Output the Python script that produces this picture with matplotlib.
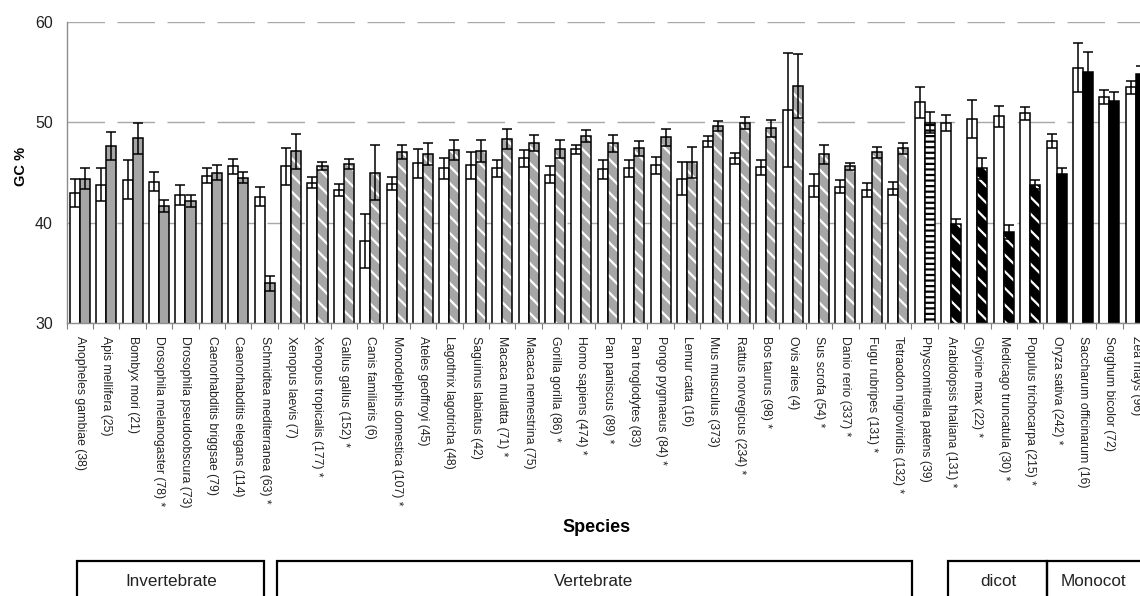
import matplotlib
matplotlib.use("Agg")
import matplotlib.pyplot as plt
from matplotlib.patches import Rectangle
import numpy as np

plt.rcParams['font.family'] = ['Liberation Sans', 'DejaVu Sans']
plt.rcParams['hatch.linewidth'] = 1.6

species = [
    "Anopheles gambiae (38)", "Apis mellifera (25)", "Bombyx mori (21)",
    "Drosophila melanogaster (78) *", "Drosophila pseudoobscura (73)",
    "Caenorhabditis briggsae (79)", "Caenorhabditis elegans (114)",
    "Schmidtea mediterranea (63) *", "Xenopus laevis (7)",
    "Xenopus tropicalis (177) *", "Gallus gallus (152) *", "Canis familiaris (6)",
    "Monodelphis domestica (107) *", "Ateles geoffroyi (45)",
    "Lagothrix lagotricha (48)", "Saguinus labiatus (42)",
    "Macaca mulatta (71) *", "Macaca nemestrina (75)", "Gorilla gorilla (86) *",
    "Homo sapiens (474) *", "Pan paniscus (89) *", "Pan troglodytes (83)",
    "Pongo pygmaeus (84) *", "Lemur catta (16)", "Mus musculus (373)",
    "Rattus norvegicus (234) *", "Bos taurus (98) *", "Ovis aries (4)",
    "Sus scrofa (54) *", "Danio rerio (337) *", "Fugu rubripes (131) *",
    "Tetraodon nigroviridis (132) *", "Physcomitrella patens (39)",
    "Arabidopsis thaliana (131) *", "Glycine max (22) *",
    "Medicago truncatula (30) *", "Populus trichocarpa (215) *",
    "Oryza sativa (242) *", "Saccharum officinarum (16)",
    "Sorghum bicolor (72)", "Zea mays (96)",
]
group = (["invertebrate"] * 8 + ["vertebrate"] * 24 + ["moss"] + ["dicot"] * 4
         + ["monocot"] * 4)

gc_white = [43.0, 43.8, 44.3, 44.1, 42.8, 44.7, 45.6, 42.6, 45.6,
            44.0, 43.3, 38.2, 43.9, 45.9, 45.4, 45.7, 45.4, 46.4, 44.8,
            47.3, 45.3, 45.4, 45.7, 44.4, 48.1, 46.4, 45.5, 51.2, 43.7,
            43.6, 43.3, 43.4, 52.0, 49.9, 50.3, 50.6, 50.9, 48.1, 55.4,
            52.5, 53.5]
err_white = [1.4, 1.65, 1.95, 0.95, 1.0, 0.7, 0.75, 0.95, 1.8,
             0.56, 0.6, 2.65, 0.65, 1.4, 1.05, 1.3, 0.85, 0.85, 0.8,
             0.48, 0.95, 0.88, 0.86, 1.6, 0.53, 0.58, 0.72, 5.7, 1.16,
             0.63, 0.7, 0.65, 1.55, 0.8, 1.9, 1.05, 0.65, 0.68, 2.44,
             0.7, 0.65]
gc_shaded = [44.4, 47.6, 48.4, 41.7, 42.2, 45.0, 44.5, 34.0, 47.1,
             45.6, 45.8, 45.0, 47.0, 46.8, 47.2, 47.1, 48.3, 47.9, 47.3,
             48.6, 47.9, 47.4, 48.5, 46.0, 49.6, 49.9, 49.4, 53.6, 46.8,
             45.6, 47.0, 47.4, 49.95, 39.85, 45.4, 39.05, 43.8, 44.9, 55.0,
             52.1, 54.8]
err_shaded = [1.05, 1.4, 1.55, 0.6, 0.6, 0.7, 0.55, 0.75, 1.75,
              0.4, 0.5, 2.75, 0.7, 1.1, 1.0, 1.1, 1.0, 0.8, 0.9,
              0.58, 0.83, 0.73, 0.86, 1.58, 0.5, 0.58, 0.83, 3.2, 0.95,
              0.33, 0.58, 0.58, 1.05, 0.5, 1.0, 0.68, 0.42, 0.56, 2.03,
              0.86, 0.83]

yticks = [30, 40, 50, 60]

W, H = 1140, 596
fig = plt.figure(figsize=(W / 100, H / 100), dpi=100)
x0, x1 = 66.7, 1149.0
ytop, ybot = 21.7, 323.3
ax = fig.add_axes([x0 / W, 1 - ybot / H, (x1 - x0) / W, (ybot - ytop) / H])

x = np.arange(len(species))
bw = 0.38
off = 0.19

styles = {
    "invertebrate": dict(face="#a6a6a6", hatch=None, hcol=None),
    "vertebrate": dict(face="#a6a6a6", hatch="\\\\", hcol="white"),
    "moss": dict(face="white", hatch="---", hcol="black"),
    "dicot": dict(face="black", hatch="\\\\", hcol="white"),
    "monocot": dict(face="black", hatch=None, hcol=None),
}

# white bars
ax.bar(x - off, gc_white, width=bw, bottom=0, color="white",
       edgecolor="black", linewidth=1.1, zorder=2)
# shaded bars
for xi, v, g in zip(x, gc_shaded, group):
    st = styles[g]
    if st["hatch"]:
        ax.bar(xi + off, v, width=bw, color=st["face"], edgecolor=st["hcol"],
               hatch=st["hatch"], linewidth=0, zorder=2)
        ax.bar(xi + off, v, width=bw, fill=False, edgecolor="black",
               linewidth=1.1, zorder=2.5)
    else:
        ax.bar(xi + off, v, width=bw, color=st["face"], edgecolor="black",
               linewidth=1.1, zorder=2)

ax.errorbar(x - off, gc_white, yerr=err_white, fmt="none", ecolor="black",
            elinewidth=1.1, capsize=3.3, capthick=1.1, zorder=3)
ax.errorbar(x + off, gc_shaded, yerr=err_shaded, fmt="none", ecolor="black",
            elinewidth=1.1, capsize=3.3, capthick=1.1, zorder=3)

ax.set_ylim(30, 60)
ax.set_xlim(-0.5, len(species) - 0.5)
ax.set_yticks(yticks)
ax.set_yticklabels([str(t) for t in yticks], fontsize=11.5, color="#222222")
ax.yaxis.grid(True, color="#a8a8a8", linestyle=(0, (27, 9)), linewidth=1.0)
ax.set_axisbelow(True)
ax.tick_params(axis="y", length=0, pad=10)

ax.set_xticks(x)
ax.set_xticklabels(species, rotation=270, fontsize=8.8, color="#222222",
                   ha="center", va="top")
ax.set_xticks(np.arange(len(species) + 1) - 0.5, minor=True)
ax.tick_params(axis="x", which="major", length=0, pad=9)
ax.tick_params(axis="x", which="minor", length=4, color="#808080", width=0.8)

for s in ["top", "right"]:
    ax.spines[s].set_visible(False)
for s in ["left", "bottom"]:
    ax.spines[s].set_color("#8c8c8c")
    ax.spines[s].set_linewidth(1.0)

fig.text(21 / W, 1 - 166 / H, "GC %", rotation=90, fontsize=10.5,
         fontweight="bold", ha="center", va="center")
fig.text(597 / W, 1 - 528 / H, "Species", fontsize=13, fontweight="bold",
         ha="center", va="center")

# group boxes along the bottom
boxes = [
    (77, 264, "Invertebrate", 171),
    (277, 912, "Vertebrate", 594),
    (948, 1047, "dicot", 998),
    (1047, 1160, "Monocot", 1093),
]
for left, right, label, tx in boxes:
    fig.add_artist(Rectangle((left / W, 1 - 620 / H), (right - left) / W,
                             (620 - 561) / H, transform=fig.transFigure,
                             fill=False, edgecolor="black", linewidth=1.6))
    fig.text(tx / W, 1 - 581 / H, label, fontsize=12.3, ha="center",
             va="center", color="#222222")

fig.savefig("out.png", dpi=100)
